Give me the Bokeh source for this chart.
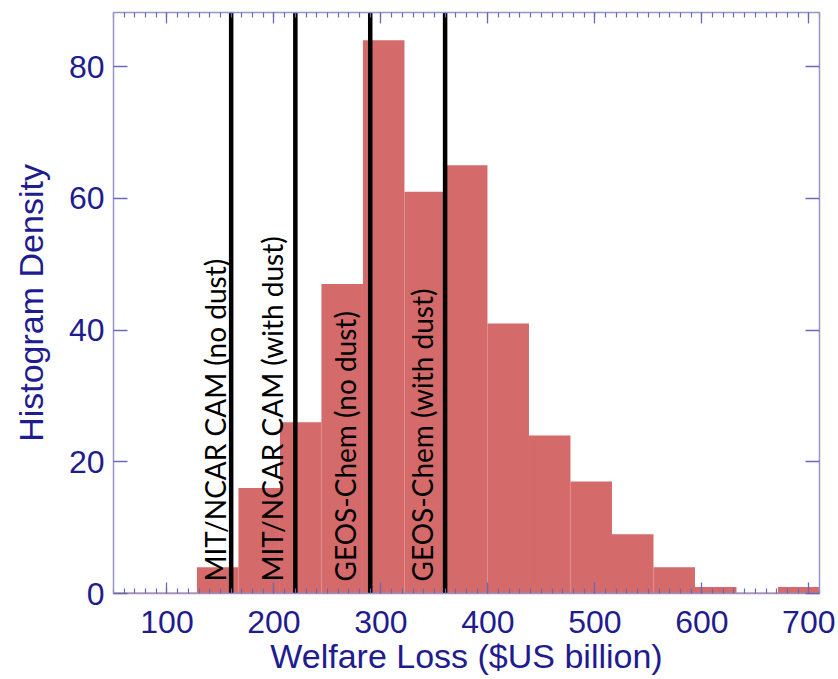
import math
from bokeh.plotting import figure
from bokeh.models import LinearAxis, SingleIntervalTicker, Range1d, ColumnDataSource
from bokeh.core.properties import value
from bokeh.embed import file_html
from bokeh.resources import INLINE

# ---- data ----
bin_left = [128.0, 166.8, 205.6, 244.4, 283.2, 322.0, 360.8, 399.6,
            438.4, 477.2, 516.0, 554.8, 593.6, 632.4, 671.2]
bin_right = [166.8, 205.6, 244.4, 283.2, 322.0, 360.8, 399.6, 438.4,
             477.2, 516.0, 554.8, 593.6, 632.4, 671.2, 710.0]
density = [4, 16, 26, 47, 84, 61, 65, 41, 24, 17, 9, 4, 1, 0, 1]

model_x = [160, 220, 290, 360]
model_label_x = [156.5, 209.5, 278.0, 349.5]
model_labels = ["MIT/NCAR CAM (no dust)", "MIT/NCAR CAM (with dust)",
                "GEOS-Chem (no dust)", "GEOS-Chem (with dust)"]

x_title = "Welfare Loss ($US billion)"
y_title = "Histogram Density"

x_start, x_end = 50, 710
y_start, y_end = 0, 88.2

NAVY = "#1f1c8f"
AXIS = "#9696c6"
TICK = "#6b67b9"
BAR = "#d46a6a"

p = figure(width=838, height=679, output_backend="svg", toolbar_location=None,
           x_range=Range1d(x_start, x_end), y_range=Range1d(y_start, y_end),
           min_border_left=113, min_border_top=12, min_border_right=19,
           min_border_bottom=86, x_axis_location=None, y_axis_location=None)
p.outline_line_color = None
p.grid.visible = False
p.background_fill_color = "white"
p.border_fill_color = "white"

# baseline of histogram
p.line(x=[x_start, x_end], y=[0, 0], line_color=BAR, line_width=2)

src = ColumnDataSource(dict(left=bin_left, right=bin_right, top=density,
                            bottom=[0] * len(density)))
p.quad(left="left", right="right", top="top", bottom="bottom", source=src,
       fill_color=BAR, line_color=None)

p.segment(x0=model_x, x1=model_x, y0=[y_start] * 4, y1=[y_end] * 4,
          line_color="black", line_width=4.5)

p.text(x=model_label_x, y=[0] * 4, text=model_labels, angle=math.pi / 2,
       text_align="left", text_baseline="alphabetic", x_offset=-12, y_offset=-12,
       text_font=value("Lato"), text_font_size="28px", text_color="black")


def style(ax, labels=True):
    ax.axis_line_color = AXIS
    ax.axis_line_width = 1.5
    ax.major_tick_line_color = TICK
    ax.minor_tick_line_color = TICK
    ax.major_tick_line_width = 1.3
    ax.minor_tick_line_width = 1.2
    ax.major_tick_out = 0
    ax.minor_tick_out = 0
    ax.major_label_text_color = NAVY
    ax.major_label_text_font = "Liberation Sans"
    ax.axis_label_text_color = NAVY
    ax.axis_label_text_font = "Liberation Sans"
    ax.axis_label_text_font_style = "normal"
    if not labels:
        ax.major_label_text_font_size = "1px"
        ax.major_label_text_color = None
        ax.major_label_text_alpha = 0
        ax.major_label_standoff = 0


def xticker():
    return SingleIntervalTicker(interval=100, num_minor_ticks=10)


def yticker():
    return SingleIntervalTicker(interval=20, num_minor_ticks=2)


xb = LinearAxis(ticker=xticker(), axis_label=x_title)
style(xb)
xb.major_tick_in = 11
xb.minor_tick_in = 5
xb.major_label_text_font_size = "32px"
xb.axis_label_text_font_size = "34px"
xb.major_label_standoff = 17
xb.axis_label_standoff = 1
p.add_layout(xb, "below")

xt = LinearAxis(ticker=xticker())
style(xt, labels=False)
xt.major_tick_in = 11
xt.minor_tick_in = 5
p.add_layout(xt, "above")

yl = LinearAxis(ticker=yticker(), axis_label=y_title)
style(yl)
yl.major_tick_in = 14
yl.minor_tick_line_color = None
yl.major_label_text_font_size = "32px"
yl.axis_label_text_font_size = "34px"
yl.major_label_standoff = 9
yl.axis_label_standoff = 16
p.add_layout(yl, "left")

yr = LinearAxis(ticker=yticker())
style(yr, labels=False)
yr.major_tick_in = 14
yr.minor_tick_line_color = None
p.add_layout(yr, "right")

open("out.html", "w").write(file_html(p, INLINE))
